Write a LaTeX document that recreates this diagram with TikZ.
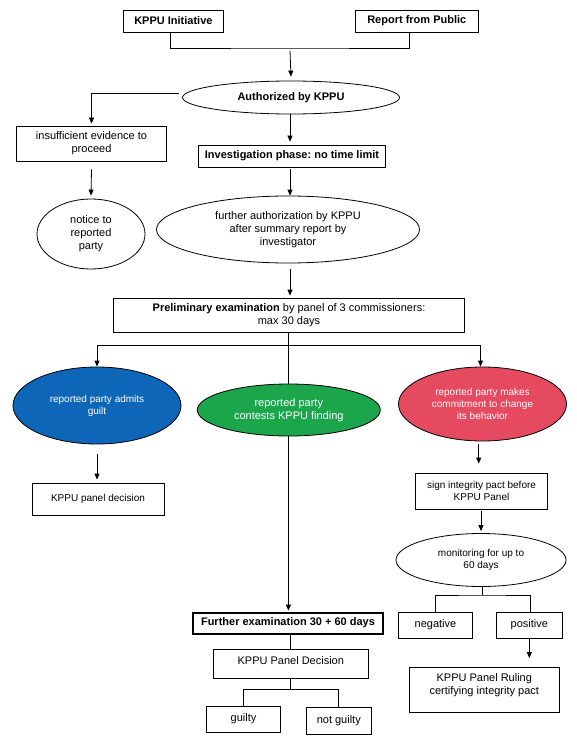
\documentclass[tikz,border=0pt]{standalone}
\usepackage{fontspec}
\setmainfont{Liberation Sans}
\frenchspacing
\usetikzlibrary{shapes.geometric,arrows.meta,backgrounds}
\definecolor{cblue}{HTML}{0E66B8}
\definecolor{cgreen}{HTML}{1BA64B}
\definecolor{cred}{HTML}{E64A60}
\tikzset{
  box/.style={draw, rectangle, inner sep=0pt, align=center, line width=0.8pt, fill=white},
  oval/.style={draw, ellipse, inner sep=0pt, align=center, line width=0.8pt, fill=white},
  arr/.style={-{Triangle[length=6pt,width=5pt]}, line width=0.8pt},
  ln/.style={line width=0.8pt},
  fb/.style={font=\fontsize{11}{13}\selectfont\bfseries},
  fr/.style={font=\fontsize{11}{13}\selectfont},
  fs/.style={font=\fontsize{10}{12}\selectfont},
}
\begin{document}
\begin{tikzpicture}[x=1pt,y=-1pt]
\useasboundingbox (0,0) rectangle (576,746);
% top
\node[box, fb, minimum width=100pt, minimum height=22pt] (ki) at (173.4,21) {KPPU Initiative};
\node[box, fb, minimum width=123pt, minimum height=22pt] (rp) at (416.8,21) {Report from Public};
\node[oval, fb, minimum width=217pt, minimum height=33pt] (auth) at (291,97.5) {Authorized by KPPU};
\node[box, fr, minimum width=150pt, minimum height=35pt] (insuf) at (91.5,143.5) {insufficient evidence to\\proceed};
\node[box, fb, minimum width=187pt, minimum height=22pt] (inv) at (292,156) {Investigation phase: no time limit};
\node[oval, fr, minimum width=108pt, minimum height=70pt] (notice) at (91,234) {notice to\\reported\\party};
\node[oval, fr, minimum width=263pt, minimum height=67pt] (further) at (288,229.5) {further authorization by KPPU\\after summary report by\\investigator};
\node[box, fr, minimum width=351pt, minimum height=34pt] (prelim) at (289,315) {\textbf{Preliminary examination} by panel of 3 commissioners:\\max 30 days};
% colored branches
\node[oval, fs, fill=cblue, text=white, minimum width=168pt, minimum height=77pt] (blue) at (97,405.5) {reported party admits\\guilt};
\node[oval, fr, fill=cgreen, text=white, minimum width=183pt, minimum height=52pt] (green) at (288.8,410) {reported party\\contests KPPU finding};
\node[oval, fs, fill=cred, text=white, minimum width=168pt, minimum height=74pt] (red) at (482.5,404) {reported party makes\\commitment to change\\its behavior};
\node[box, fs, minimum width=132pt, minimum height=32pt] (kpd) at (98,499) {KPPU panel decision};
\node[box, fs, minimum width=132pt, minimum height=36pt] (sign) at (481.5,491) {sign integrity pact before\\KPPU Panel};
\node[oval, fs, minimum width=170pt, minimum height=53pt] (mon) at (481,560) {monitoring for up to\\60 days};
\node[box, fr, minimum width=74pt, minimum height=26pt] (neg) at (435.5,625) {negative};
\node[box, fr, minimum width=66pt, minimum height=26pt] (pos) at (529.3,625) {positive};
\node[box, minimum width=150pt, minimum height=45pt,
      label={[fr, align=center, yshift=5pt]center:KPPU Panel Ruling\\certifying integrity pact}] (ruling) at (484.3,690) {};
% middle
\node[box, fb, line width=2pt, minimum width=190pt, minimum height=21pt] (furth) at (288,623) {Further examination 30 + 60 days};
\node[box, minimum width=155pt, minimum height=29pt,
      label={[fr, yshift=3.5pt]center:KPPU Panel Decision}] (kpanel) at (290.8,663.7) {};
\node[box, fr, minimum width=74pt, minimum height=26pt] (guilty) at (243.5,719) {\raisebox{2pt}{guilty}};
\node[box, fr, minimum width=65pt, minimum height=27pt] (notg) at (338.8,720.7) {not guilty};

% connectors
\coordinate (tj) at (290,48);
\coordinate (a1) at (290,51);
\coordinate (hb) at (289,345);
\coordinate (mj) at (482,595);
\coordinate (kj) at (290.5,689.3);
\draw[ln] ([xshift=-3pt]ki.south) |- (tj) -| ([xshift=-7.5pt]rp.south);
\draw[arr] (a1) -- ([yshift=4pt]auth.north);
\draw[arr] ([xshift=-3.5pt,yshift=4.5pt]auth.west) -| ([yshift=2pt]insuf.north);
\draw[arr] ([xshift=-1pt]auth.south) -- ([xshift=-1pt,yshift=3pt]auth.south |- inv.north);
\draw[arr] ([yshift=-8pt]insuf.south) -- ([yshift=3pt]notice.north);
\draw[arr] ([xshift=-2pt,yshift=-2pt]inv.south) -- ([xshift=-2pt]inv.south |- further.north);
\draw[arr] ([xshift=2pt,yshift=-6pt]further.south) -- ([xshift=2pt,yshift=2pt]further.south |- prelim.north);
\begin{scope}[on background layer]
\draw[arr] ([xshift=-0.6pt]prelim.south) -- ([xshift=-0.6pt,yshift=1pt]prelim.south |- furth.north);
\end{scope}
\draw[arr] (hb) -| (blue.north);
\draw[arr] (hb) -| ([xshift=-2pt]red.north);
\draw[arr] ([yshift=-10pt]blue.south) -- ([yshift=3pt]blue.south |- kpd.north);
\draw[arr] ([xshift=-3.8pt,yshift=-3pt]red.south) -- ([xshift=-3.8pt,yshift=9pt]red.south |- sign.north);
\draw[arr] ([yshift=-2pt]mon.north |- sign.south) -- ([yshift=2pt]mon.north);
\draw[ln] ([xshift=1pt]mon.south) -- (mj);
\draw[ln] (neg.north) |- (mj) -| ([xshift=1pt]pos.north);
\draw[arr] (pos.south) -- ([yshift=9pt]pos.south |- ruling.north);
\draw[ln] ([xshift=2.3pt]furth.south) -- ([xshift=2.3pt]furth.south |- kpanel.north);
\draw[ln] ([xshift=-0.3pt]kpanel.south) -- (kj);
\draw[ln] (guilty.north) |- (kj) -| (notg.north);
\end{tikzpicture}
\end{document}
